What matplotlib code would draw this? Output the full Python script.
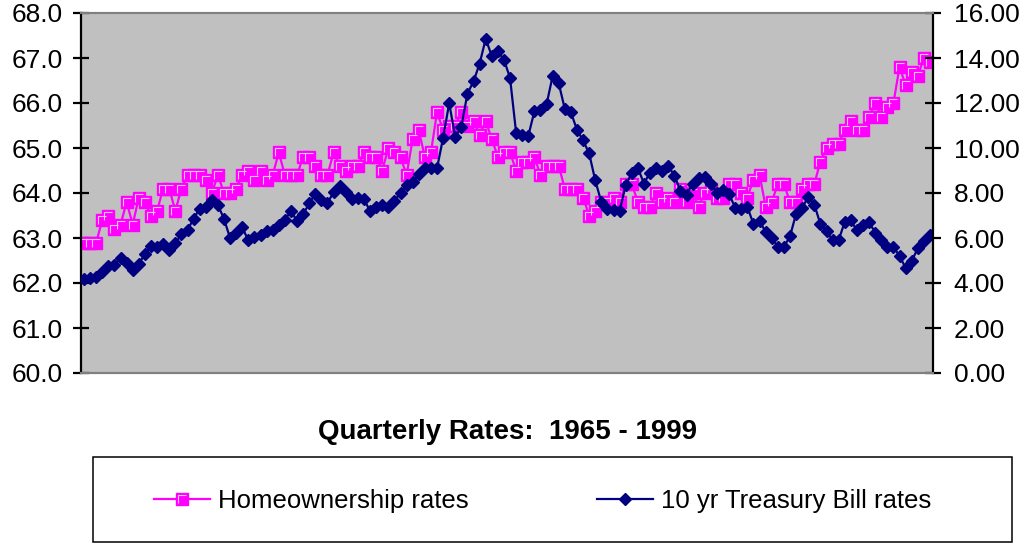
import numpy as np
import matplotlib
matplotlib.use("Agg")
import matplotlib.pyplot as plt
from matplotlib.path import Path
from matplotlib.patches import Rectangle
from matplotlib.legend_handler import HandlerTuple

plt.rcParams["font.family"] = ["Liberation Sans", "DejaVu Sans"]

# quarterly values 1965 Q1 .. 1999 Q4
homeownership = [
    62.9, 62.9, 62.9, 63.4,  63.5, 63.2, 63.3, 63.8,  63.3, 63.9, 63.8, 63.5,
    63.6, 64.1, 64.1, 63.6,  64.1, 64.4, 64.4, 64.4,  64.3, 64.0, 64.4, 64.0,
    64.0, 64.1, 64.4, 64.5,  64.3, 64.5, 64.3, 64.4,  64.9, 64.4, 64.4, 64.4,
    64.8, 64.8, 64.6, 64.4,  64.4, 64.9, 64.6, 64.5,  64.6, 64.6, 64.9, 64.8,
    64.8, 64.5, 65.0, 64.9,  64.8, 64.4, 65.2, 65.4,  64.8, 64.9, 65.8, 65.4,
    65.5, 65.5, 65.8, 65.5,  65.6, 65.3, 65.6, 65.2,  64.8, 64.9, 64.9, 64.5,
    64.7, 64.7, 64.8, 64.4,  64.6, 64.6, 64.6, 64.1,  64.1, 64.1, 63.9, 63.5,
    63.6, 63.8, 63.8, 63.9,  63.8, 64.2, 64.2, 63.8,  63.7, 63.7, 64.0, 63.8,
    63.9, 63.8, 64.1, 63.8,  64.0, 63.7, 64.0, 64.1,  63.9, 63.9, 64.2, 64.2,
    64.0, 63.9, 64.3, 64.4,  63.7, 63.8, 64.2, 64.2,  63.8, 63.8, 64.1, 64.2,
    64.2, 64.7, 65.0, 65.1,  65.1, 65.4, 65.6, 65.4,  65.4, 65.7, 66.0, 65.7,
    65.9, 66.0, 66.8, 66.4,  66.7, 66.6, 67.0, 66.9,
]
treasury = [
    4.19, 4.21, 4.25, 4.47,  4.77, 4.78, 5.13, 4.88,  4.56, 4.86, 5.28, 5.64,
    5.61, 5.74, 5.46, 5.77,  6.18, 6.35, 6.86, 7.30,  7.37, 7.71, 7.46, 6.85,
    5.99, 6.24, 6.47, 5.89,  6.03, 6.15, 6.29, 6.37,  6.60, 6.81, 7.21, 6.75,
    7.05, 7.54, 7.96, 7.67,  7.54, 8.05, 8.30, 8.06,  7.75, 7.77, 7.73, 7.19,
    7.37, 7.46, 7.40, 7.66,  8.00, 8.34, 8.50, 8.83,  9.11, 9.11, 9.10, 10.45,
    11.99, 10.48, 10.95, 12.42,  12.96, 13.75, 14.85, 14.09,  14.29, 13.93, 13.11, 10.67,
    10.56, 10.54, 11.63, 11.69,  11.94, 13.20, 12.87, 11.74,  11.58, 10.81, 10.34, 9.76,
    8.56, 7.60, 7.31, 7.26,  7.19, 8.34, 8.88, 9.12,  8.42, 8.91, 9.10, 8.96,
    9.21, 8.77, 8.11, 7.91,  8.42, 8.68, 8.70, 8.40,  8.02, 8.13, 7.94, 7.35,
    7.30, 7.38, 6.62, 6.74,  6.28, 5.99, 5.62, 5.61,  6.07, 7.08, 7.33, 7.84,
    7.48, 6.62, 6.32, 5.89,  5.91, 6.72, 6.78, 6.34,  6.56, 6.70, 6.24, 5.91,
    5.59, 5.60, 5.20, 4.67,  4.98, 5.54, 5.88, 6.14,
]
left_ticks = [60, 61, 62, 63, 64, 65, 66, 67, 68]
right_ticks = [0, 2, 4, 6, 8, 10, 12, 14, 16]
title = "Quarterly Rates:  1965 - 1999"
labels = ["Homeownership rates", "10 yr Treasury Bill rates"]

x = np.arange(len(homeownership))
pink = "#FF00FF"
navy = "#000080"

fig = plt.figure(figsize=(10.26, 5.44), dpi=100)
W, H = 1026, 544
ax = fig.add_axes([81 / W, 1 - 373 / H, (933 - 81) / W, 360 / H])
ax.set_facecolor("#C0C0C0")

# little light "bevel" inside the square markers
gamma = Path([(-0.35, -0.35), (-0.35, 0.3), (0.3, 0.3)],
             [Path.MOVETO, Path.LINETO, Path.LINETO])

l1, = ax.plot(x, homeownership, color=pink, lw=1.6, marker="s", ms=8.5,
              mfc=pink, mec=pink, mew=1.0)
l1b, = ax.plot(x, homeownership, ls="none", marker=gamma, ms=6.0,
               mfc="none", mec="#F4C8F4", mew=0.8)
ax.set_xlim(-0.5, len(x) - 0.5)
ax.set_ylim(60, 68)
ax.set_yticks(left_ticks)
ax.set_yticklabels([f"{v:.1f}" for v in left_ticks])
ax.set_xticks([])

ax2 = ax.twinx()
l2, = ax2.plot(x, treasury, color=navy, lw=1.6, marker="D", ms=6.6,
               mfc=navy, mec=navy, mew=1.0)
ax2.set_ylim(0, 16)
ax2.set_yticks(right_ticks)
ax2.set_yticklabels([f"{v:.2f}" for v in right_ticks])

for a in (ax, ax2):
    a.spines["top"].set_color("#808080")
    a.spines["bottom"].set_color("#808080")
    a.spines["top"].set_linewidth(1.5)
    a.spines["bottom"].set_linewidth(1.5)
    a.spines["left"].set_linewidth(1.6)
    a.spines["right"].set_linewidth(1.6)
    a.tick_params(axis="y", direction="inout", length=12, width=1.6,
                  labelsize=19, pad=7)
ax2.tick_params(axis="y", pad=9)
ax.spines["right"].set_visible(False)
ax2.spines["left"].set_visible(False)

fig.text(507 / W, 1 - 432 / H, title, ha="center", va="center",
         fontsize=20, fontweight="bold")

# legend box
fig.patches.append(Rectangle((93 / W, 1 - 542 / H), 919 / W, 85 / H,
                             transform=fig.transFigure, facecolor="white",
                             edgecolor="black", lw=1.1, zorder=1))
fs = 18.5
fs_px = fs * 100 / 72
leg = fig.legend([(l1, l1b), l2], labels, loc="center left", ncol=2,
                 bbox_to_anchor=(154 / W, 1 - 501 / H),
                 borderaxespad=0, borderpad=0, fontsize=fs,
                 handlelength=56 / fs_px, handletextpad=8 / fs_px,
                 columnspacing=128 / fs_px, numpoints=1, frameon=False,
                 handler_map={tuple: HandlerTuple(ndivide=1)})

fig.savefig("out.png", dpi=100)
